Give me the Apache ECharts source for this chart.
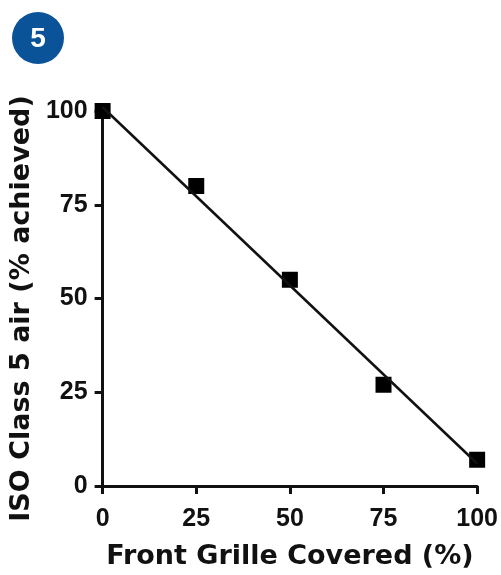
<!DOCTYPE html>
<html>
<head>
<meta charset="utf-8">
<script src="https://cdn.jsdelivr.net/npm/echarts@6/dist/echarts.min.js"></script>
<style>
  html, body { margin: 0; padding: 0; background: #fff; }
  #chart { width: 501px; height: 575px; }
</style>
</head>
<body>
<div id="chart"></div>
<script>
  // values
  let coveredPct = [0, 25, 50, 75, 100]
  let isoAchieved = [100, 80, 55, 27, 7]
  // fitted line end points
  let fitX = [0, 100]
  let fitY = [101, 6]
  let tickLabels = ['0', '25', '50', '75', '100']

  let font = '"Liberation Sans", Arial, sans-serif'
  let titleFont = '"DejaVu Sans", sans-serif'
  let ink = '#111'

  let chart = echarts.init(document.getElementById('chart'))

  let axisCommon = {
    type: 'value',
    min: 0,
    max: 100,
    interval: 25,
    nameLocation: 'middle',
    nameTextStyle: {fontFamily: titleFont, fontWeight: 'bold', fontSize: 27, color: ink},
    axisLine: {show: true, lineStyle: {color: ink, width: 3}},
    axisTick: {show: true, inside: false, length: 8, lineStyle: {color: ink, width: 3}},
    splitLine: {show: false},
    axisLabel: {
      fontFamily: font, fontWeight: 'bold', fontSize: 25, color: ink,
      formatter: function (v) {
        return tickLabels[coveredPct.indexOf(v)] || String(v)
      }
    }
  }

  chart.setOption({
    animation: false,
    backgroundColor: '#fff',
    grid: {left: 101, right: 23, top: 111, bottom: 88, containLabel: false},
    xAxis: Object.assign({}, axisCommon, {
      name: 'Front Grille Covered (%)',
      nameGap: 57,
      axisLabel: Object.assign({}, axisCommon.axisLabel, {margin: 21})
    }),
    yAxis: Object.assign({}, axisCommon, {
      name: 'ISO Class 5 air (% achieved)',
      nameGap: 59,
      nameTextStyle: Object.assign({}, axisCommon.nameTextStyle, {padding: [0, 20, 0, 0]}),
      axisLabel: Object.assign({}, axisCommon.axisLabel, {margin: 15})
    }),
    graphic: [
      {type: 'circle', shape: {cx: 38, cy: 38, r: 26}, style: {fill: '#0b5399'}},
      {
        type: 'text', x: 38, y: 39,
        style: {
          text: '5', fill: '#fff', font: 'bold 28px ' + font,
          align: 'center', verticalAlign: 'middle'
        }
      }
    ],
    series: [
      {
        type: 'line',
        data: fitX.map((x, i) => [x, fitY[i]]),
        showSymbol: false,
        symbol: 'none',
        clip: false,
        lineStyle: {color: ink, width: 2.5}
      },
      {
        type: 'scatter',
        data: coveredPct.map((x, i) => [x, isoAchieved[i]]),
        symbol: 'rect',
        symbolSize: 16,
        clip: false,
        itemStyle: {color: '#000', opacity: 1}
      }
    ]
  })
</script>
</body>
</html>
